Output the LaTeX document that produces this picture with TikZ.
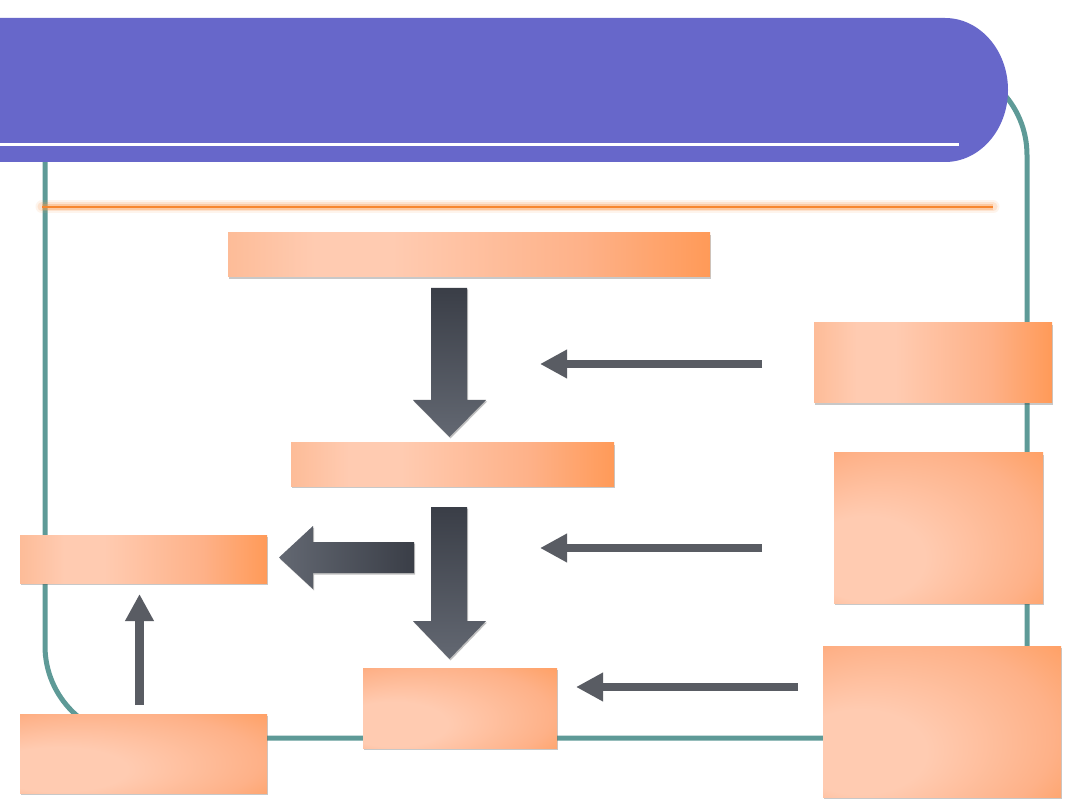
\documentclass[tikz,border=0pt]{standalone}
\usetikzlibrary{arrows.meta,shadows}
\definecolor{bannerc}{HTML}{6767CA}
\definecolor{framec}{HTML}{5E9A97}
\definecolor{glowc}{HTML}{FB9A4C}
\definecolor{linec}{HTML}{F7862E}
\definecolor{bxA}{HTML}{FDBC98}
\definecolor{bxB}{HTML}{FFCBB1}
\definecolor{bxM}{HTML}{FEB188}
\definecolor{bxC}{HTML}{FF9A58}
\definecolor{darkA}{HTML}{3A3E47}
\definecolor{darkB}{HTML}{636872}
\definecolor{thinc}{HTML}{595C63}
\pgfdeclarehorizontalshading{boxshade}{100bp}{color(0bp)=(bxA); color(25bp)=(bxA); color(34bp)=(bxB); color(42bp)=(bxB); color(62bp)=(bxM); color(75bp)=(bxC); color(100bp)=(bxC)}
\pgfdeclareradialshading{tallshade}{\pgfpoint{-24bp}{-14bp}}{color(0bp)=(bxB); color(14bp)=(bxB); color(32bp)=(bxM); color(44bp)=(bxC); color(50bp)=(bxC)}
\tikzset{
  boxbase/.style={anchor=north west, inner sep=0pt, outer sep=0pt,
    drop shadow={shadow xshift=1pt, shadow yshift=-2pt, opacity=0.3, fill=black!70}},
  box/.style={boxbase, shading=boxshade},
  tallbox/.style={boxbase, shading=tallshade},
  bigdown/.style={top color=darkA, bottom color=darkB,
    drop shadow={shadow xshift=1pt, shadow yshift=-1.5pt, opacity=0.25, fill=black}},
  bigleft/.style={left color=darkB, right color=darkA,
    drop shadow={shadow xshift=1pt, shadow yshift=-1.5pt, opacity=0.25, fill=black}},
  thinarrow/.style={draw=thinc, line width=8pt, -{Triangle[length=27pt,width=27pt]}},
  uparrow/.style={draw=thinc, line width=9pt, -{Triangle[length=27pt,width=27pt]}},
}
\begin{document}
\begin{tikzpicture}[x=1pt,y=-1pt]
\useasboundingbox (0,0) rectangle (1080,810);
\fill[white] (0,0) rectangle (1080,810);
% frame
\draw[framec, line width=5pt, rounded corners=92pt] (45,63) rectangle (1027,738);
% banner
\fill[bannerc] (0,18) -- (945,18) arc[start angle=-90, end angle=90, x radius=63, y radius=72] -- (0,162) -- cycle;
\coordinate (wl1) at (0,144.5);
\coordinate (wl2) at (959,144.5);
\draw[white, line width=3.4pt] (wl1) -- (wl2);
% orange line with glow
\coordinate (ol1) at (42,207);
\coordinate (ol2) at (993,207);
\draw[glowc, line width=13pt, opacity=0.10, line cap=round] (ol1) -- (ol2);
\draw[glowc, line width=9pt, opacity=0.18, line cap=round] (ol1) -- (ol2);
\draw[glowc, line width=5.5pt, opacity=0.35] (ol1) -- (ol2);
\draw[linec, line width=2pt] (ol1) -- (ol2);
% boxes
\node[box, minimum width=482pt, minimum height=44pt] (b1) at (228,233) {};
\node[box, minimum width=238pt, minimum height=80pt] (r1) at (814,323) {};
\node[box, minimum width=323pt, minimum height=43pt] (b2) at (291,443) {};
\node[tallbox, minimum width=209pt, minimum height=150pt] (r2) at (834,453) {};
\node[box, minimum width=247pt, minimum height=48pt] (bl) at (20,535) {};
\node[tallbox, minimum width=194pt, minimum height=80pt] (b3) at (363,668) {};
\node[tallbox, minimum width=238pt, minimum height=151pt] (r3) at (823,646) {};
\node[tallbox, minimum width=247pt, minimum height=79pt] (bb) at (20,714) {};
% big arrows
\path[bigdown] (431,288) -- (467,288) -- (467,400) -- (486,400) -- (449.5,437) -- (413,400) -- (431,400) -- cycle;
\path[bigdown] (431,507) -- (467,507) -- (467,621) -- (486,621) -- (449.5,659) -- (413,621) -- (431,621) -- cycle;
\path[bigleft] (414,542) -- (414,573) -- (313,573) -- (313,589) -- (279,557.5) -- (313,526) -- (313,542) -- cycle;
% thin arrows
\coordinate (t1s) at (762,364);
\coordinate (t1e) at (540,364);
\coordinate (t2s) at (762,548);
\coordinate (t2e) at (540,548);
\coordinate (t3s) at (798,687);
\coordinate (t3e) at (576,687);
\draw[thinarrow] (t1s) -- (t1e);
\draw[thinarrow] (t2s) -- (t2e);
\draw[thinarrow] (t3s) -- (t3e);
\coordinate (us) at (139.5,705);
\coordinate (ue) at (139.5,594);
\draw[uparrow] (us) -- (ue);
\end{tikzpicture}
\end{document}
